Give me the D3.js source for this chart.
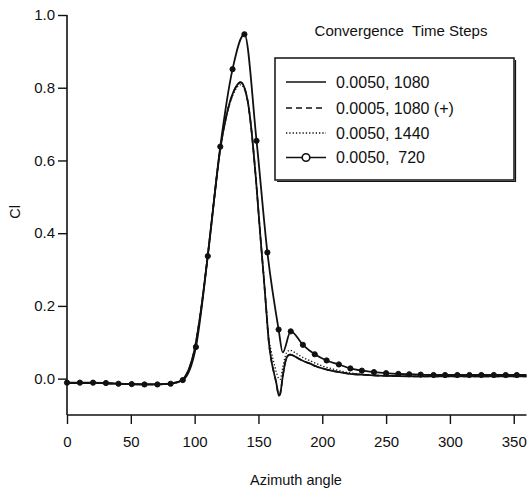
<!DOCTYPE html>
<html>
<head>
<meta charset="utf-8">
<script src="https://cdn.jsdelivr.net/npm/d3@7/dist/d3.min.js"></script>
<style>
  html, body { margin: 0; padding: 0; background: #fff; }
  svg { display: block; }
  text { font-family: "Liberation Sans", Arial, Helvetica, sans-serif; fill: #111; }
</style>
</head>
<body>
<svg id="chart" width="529" height="493"></svg>
<script>
// ---- data ----
const xTicks = [0, 50, 100, 150, 200, 250, 300, 350];
const yTicks = [0.0, 0.2, 0.4, 0.6, 0.8, 1.0];

const seriesNames = ["0.0050, 1080", "0.0005, 1080 (+)", "0.0050, 1440", "0.0050,  720"];

// common azimuth grid for the three fine-resolution runs
const azGrid = [0,10,20,30,40,50,60,70,80,85,90,95,100,105,110,115,120,125,130,133,136,139,142,144,146,148,150,152,154,156,158,160,162,164,166,167,169,171,173,175,178,182,186,190,195,200,210,220,230,240,260,280,300,330,360];

const clSolid = [-0.012,-0.012,-0.012,-0.013,-0.014,-0.015,-0.016,-0.016,-0.014,-0.011,-0.004,0.022,0.082,0.19,0.33,0.485,0.63,0.725,0.785,0.806,0.815,0.80,0.755,0.70,0.63,0.55,0.46,0.37,0.285,0.195,0.105,0.052,0.018,-0.012,-0.047,-0.042,0.005,0.045,0.063,0.066,0.062,0.054,0.047,0.042,0.034,0.028,0.020,0.014,0.011,0.009,0.007,0.006,0.006,0.006,0.006];

const clDashed = [-0.012,-0.012,-0.012,-0.013,-0.014,-0.015,-0.016,-0.016,-0.014,-0.011,-0.004,0.022,0.082,0.19,0.33,0.485,0.63,0.725,0.785,0.806,0.815,0.80,0.755,0.70,0.63,0.55,0.46,0.37,0.285,0.195,0.105,0.052,0.018,-0.012,-0.047,-0.042,0.005,0.045,0.063,0.066,0.062,0.054,0.047,0.042,0.034,0.028,0.020,0.014,0.011,0.009,0.007,0.006,0.006,0.006,0.006];

const clDotted = [-0.012,-0.012,-0.012,-0.013,-0.014,-0.015,-0.016,-0.016,-0.014,-0.011,-0.004,0.022,0.082,0.19,0.33,0.485,0.63,0.722,0.78,0.80,0.808,0.796,0.752,0.70,0.63,0.55,0.46,0.37,0.29,0.2,0.115,0.075,0.045,0.018,0.0,-0.002,0.03,0.062,0.076,0.078,0.073,0.064,0.056,0.05,0.042,0.035,0.025,0.017,0.012,0.009,0.007,0.006,0.006,0.006,0.006];

// coarse run (720 steps): line points and which of them carry a marker
const az720 = [0,10.1,20.4,30.5,40.3,50.7,60.7,70.8,81.2,90.7,101,110.3,120.1,129.7,139,148.5,157,165.8,169,175.3,184.8,194.1,203.4,213,222,231,240.5,250,259.6,268.1,277.1,287.2,296.2,305.8,315.3,324.6,334.4,343.7,352.4,360];
const cl720 = [-0.011,-0.011,-0.011,-0.012,-0.014,-0.015,-0.016,-0.016,-0.014,-0.004,0.087,0.337,0.638,0.851,0.947,0.654,0.347,0.135,0.072,0.130,0.093,0.067,0.050,0.039,0.028,0.022,0.018,0.015,0.013,0.012,0.011,0.010,0.010,0.010,0.010,0.010,0.010,0.010,0.010,0.010];
const marker720 = [1,1,1,1,1,1,1,1,1,1,1,1,1,1,1,1,1,1,0,1,1,1,1,1,1,1,1,1,1,1,1,1,1,1,1,1,1,1,1,0];

// ---- drawing ----
const svg = d3.select("#chart");
const x = d3.scaleLinear().domain([0, 360]).range([67, 526.5]);
const y = d3.scaleLinear().domain([-0.1, 1.0]).range([415, 15]);
const ink = "#111";

// axes
const xAxis = d3.axisBottom(x).tickValues(xTicks).tickSize(9).tickPadding(12).tickFormat(d3.format("d"));
const gx = svg.append("g").attr("transform", "translate(0,415)").call(xAxis);
const yAxis = d3.axisLeft(y).tickValues(yTicks).tickSize(9).tickPadding(3).tickFormat(d3.format(".1f"));
const gy = svg.append("g").attr("transform", "translate(67,0)").call(yAxis);
[gx, gy].forEach(g => {
  g.select(".domain").attr("stroke", ink).attr("stroke-width", 1.6);
  g.selectAll(".tick line").attr("stroke", ink).attr("stroke-width", 1.4);
  g.selectAll(".tick text").style("font-size", "15px").attr("fill", ink)
    .style("font-family", '"Liberation Sans", Arial, sans-serif');
});
gx.select(".domain").attr("d", `M${x(0)},0H${x(360)}`);
gy.select(".domain").attr("d", `M0,${y(-0.1)}V${y(1.0)}`);

// axis titles
svg.append("text").attr("x", 296).attr("y", 485).attr("text-anchor", "middle")
  .style("font-size", "14.5px").text("Azimuth angle");
svg.append("text").attr("transform", "translate(20,212) rotate(-90)").attr("text-anchor", "middle")
  .style("font-size", "14.5px").text("Cl");

// curves
const line = d3.line().x(d => x(d[0])).y(d => y(d[1])).curve(d3.curveMonotoneX);
const pts = arr => azGrid.map((a, i) => [a, arr[i]]);

svg.append("path").attr("d", line(pts(clDotted))).attr("fill", "none")
  .attr("stroke", ink).attr("stroke-width", 1.3).attr("stroke-dasharray", "1.3,2");
svg.append("path").attr("d", line(pts(clDashed))).attr("fill", "none")
  .attr("stroke", ink).attr("stroke-width", 1.6).attr("stroke-dasharray", "6,4");
svg.append("path").attr("d", line(pts(clSolid))).attr("fill", "none")
  .attr("stroke", ink).attr("stroke-width", 1.8);

const p720 = az720.map((a, i) => [a, cl720[i]]);
svg.append("path").attr("d", line(p720)).attr("fill", "none")
  .attr("stroke", ink).attr("stroke-width", 1.8);
svg.append("g").selectAll("circle").data(p720.filter((d, i) => marker720[i]))
  .join("circle").attr("cx", d => x(d[0])).attr("cy", d => y(d[1])).attr("r", 2.6)
  .attr("fill", ink).attr("stroke", ink).attr("stroke-width", 1);

// legend
svg.append("text").attr("x", 401).attr("y", 36).attr("text-anchor", "middle")
  .style("font-size", "15px").style("white-space", "pre").text("Convergence\u00a0\u00a0Time Steps");
const lg = svg.append("g");
lg.append("rect").attr("x", 275).attr("y", 58).attr("width", 239).attr("height", 122)
  .attr("fill", "#fff").attr("stroke", ink).attr("stroke-width", 1.5);
lg.append("path").attr("d", "M277,181.5H515.5V60").attr("fill", "none").attr("stroke", ink).attr("stroke-width", 1.2);
const legY = [82, 108, 133, 157.5];
const dashes = [null, "6,4", "1.3,2", null];
const widths = [1.6, 1.6, 1.3, 1.6];
seriesNames.forEach((name, i) => {
  const ly = legY[i];
  const l = lg.append("line").attr("x1", 286).attr("x2", 326).attr("y1", ly).attr("y2", ly)
    .attr("stroke", ink).attr("stroke-width", widths[i]);
  if (dashes[i]) l.attr("stroke-dasharray", dashes[i]);
  if (i === 3) {
    lg.append("circle").attr("cx", 306).attr("cy", ly).attr("r", 3.8)
      .attr("fill", "#fff").attr("stroke", ink).attr("stroke-width", 1.6);
  }
  lg.append("text").attr("x", 336).attr("y", ly + 5.5).style("font-size", "16px")
    .style("white-space", "pre").text(name.replace("  ", "\u00a0\u00a0"));
});
</script>
</body>
</html>
